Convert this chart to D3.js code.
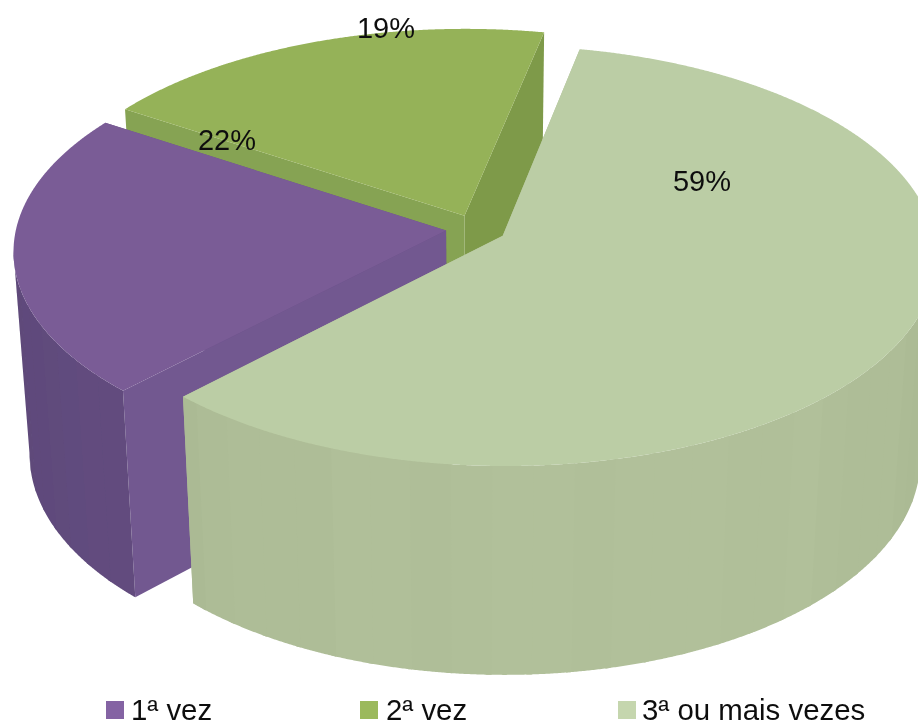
<!DOCTYPE html>
<html>
<head>
<meta charset="utf-8">
<style>
html,body{margin:0;padding:0;background:#fff;overflow:hidden}
text{font-family:"Liberation Sans",Arial,sans-serif;fill:#111}
</style>
<script src="https://cdn.jsdelivr.net/npm/d3@7/dist/d3.min.js"></script>
</head>
<body>
<svg id="chart" width="918" height="726"></svg>
<script>
const categories = ["1ª vez", "2ª vez", "3ª ou mais vezes"];
const values = [22, 19, 59];
const topColors = ["#7a5c96", "#95b258", "#bbcda5"];
const legendColors = ["#8463a3", "#9bb95c", "#c5d6ae"];
const cutStartColors = ["#725890", "#86a352", "#b0bf98"];
const cutEndColors = ["#6a5288", "#7e9a48", "#b0bf98"];
const wallDark = ["#5c4877", "#7a9446", "#a3b28c"];
const wallLight = ["#664f84", "#84a150", "#b1c09a"];

// layout
const W = 918, H = 726;
const center = {x: 476, y: 229};
const topFace = {cy: 229, rx: 430, ry: 207};
const bottomFace = {cy: 431, rx: 415, ry: 213};
const persp = 0.095, explode = 0.07;
const startDeg = 224;
const labelAt = [[227, 140], [386, 28], [702, 181]];
const legendAt = [[106, 131], [360, 386], [618, 642]];

const svg = d3.select("#chart");
const defs = svg.append("defs");
defs.append("filter").attr("id", "soft")
  .attr("x", 0).attr("y", 0).attr("width", 1).attr("height", 1)
  .append("feGaussianBlur").attr("stdDeviation", 0.5);
const root = svg.append("g").attr("filter", "url(#soft)");
root.append("rect").attr("width", W).attr("height", H).attr("fill", "#fff");

const pie = d3.pie().sort(null)
  .startAngle(startDeg * Math.PI / 180)
  .endAngle((startDeg + 360) * Math.PI / 180);
const arcs = pie(values);

const project = (face, u, v) => {
  const w = 1 / (1 - persp * v);
  return [center.x + face.rx * u * w, face.cy + face.ry * v * w];
};
const offsets = d => {
  const m = (d.startAngle + d.endAngle) / 2;
  return [explode * Math.sin(m), -explode * Math.cos(m)];
};
const rim = (face, d, a) => {
  const [ou, ov] = offsets(d);
  return project(face, ou + Math.sin(a), ov - Math.cos(a));
};
const apex = (face, d) => { const [ou, ov] = offsets(d); return project(face, ou, ov); };
const line = d3.line();

const step = 0.2 * Math.PI / 180;
const angleList = d => d3.range(d.startAngle, d.endAngle, step).concat([d.endAngle]);

// Painter's order: back slice, left slice, front slice
[1, 0, 2].forEach(i => {
  const d = arcs[i];
  const g = root.append("g").attr("class", "slice");

  // radial cut faces: far one first
  [[d.endAngle, cutEndColors], [d.startAngle, cutStartColors]].forEach(([a, cols]) => {
    g.append("path")
      .attr("d", line([apex(topFace, d), rim(topFace, d, a), rim(bottomFace, d, a), apex(bottomFace, d)]) + "Z")
      .attr("fill", cols[i]);
  });

  // outer wall in vertical facets; only those facing the viewer
  const facetStep = 5 * Math.PI / 180;
  const shade = d3.scaleLinear()
    .domain([-1, 1]).range([wallDark[i], wallLight[i]]);
  d3.range(d.startAngle, d.endAngle, facetStep).forEach(a0 => {
    const a1 = Math.min(a0 + facetStep + 0.012, d.endAngle);
    const faces = f => rim(f, d, a1)[0] < rim(f, d, a0)[0];
    if (!faces(topFace) && !faces(bottomFace)) return;
    const as = d3.range(a0, a1, step).concat([a1]);
    const upper = as.map(a => rim(topFace, d, a));
    const lower = as.map(a => rim(bottomFace, d, a)).reverse();
    const mid = (a0 + a1) / 2;
    const t = Math.cos(mid - Math.PI * 0.93) * 1.6 - 0.6 + Math.sin(a0 * 19) * 0.12;
    g.append("path")
      .attr("d", line(upper.concat(lower)) + "Z")
      .attr("fill", shade(Math.max(-1, Math.min(1, t))));
  });

  // top face
  const pts = [apex(topFace, d)].concat(angleList(d).map(a => rim(topFace, d, a)));
  g.append("path").attr("d", line(pts) + "Z").attr("fill", topColors[i]);
});

// value labels
root.append("g").selectAll("text").data(arcs).join("text")
  .attr("x", (d, i) => labelAt[i][0])
  .attr("y", (d, i) => labelAt[i][1])
  .attr("text-anchor", "middle")
  .attr("dominant-baseline", "central")
  .attr("font-size", 29)
  .text(d => d3.format(".0%")(d.value / d3.sum(values)));

// legend
const legend = root.append("g").selectAll("g").data(categories).join("g");
legend.append("rect")
  .attr("x", (d, i) => legendAt[i][0]).attr("y", 701)
  .attr("width", 18).attr("height", 18)
  .attr("fill", (d, i) => legendColors[i]);
legend.append("text")
  .attr("x", (d, i) => legendAt[i][1]).attr("y", 720)
  .attr("font-size", 29.4)
  .text(d => d);
</script>
</body>
</html>
